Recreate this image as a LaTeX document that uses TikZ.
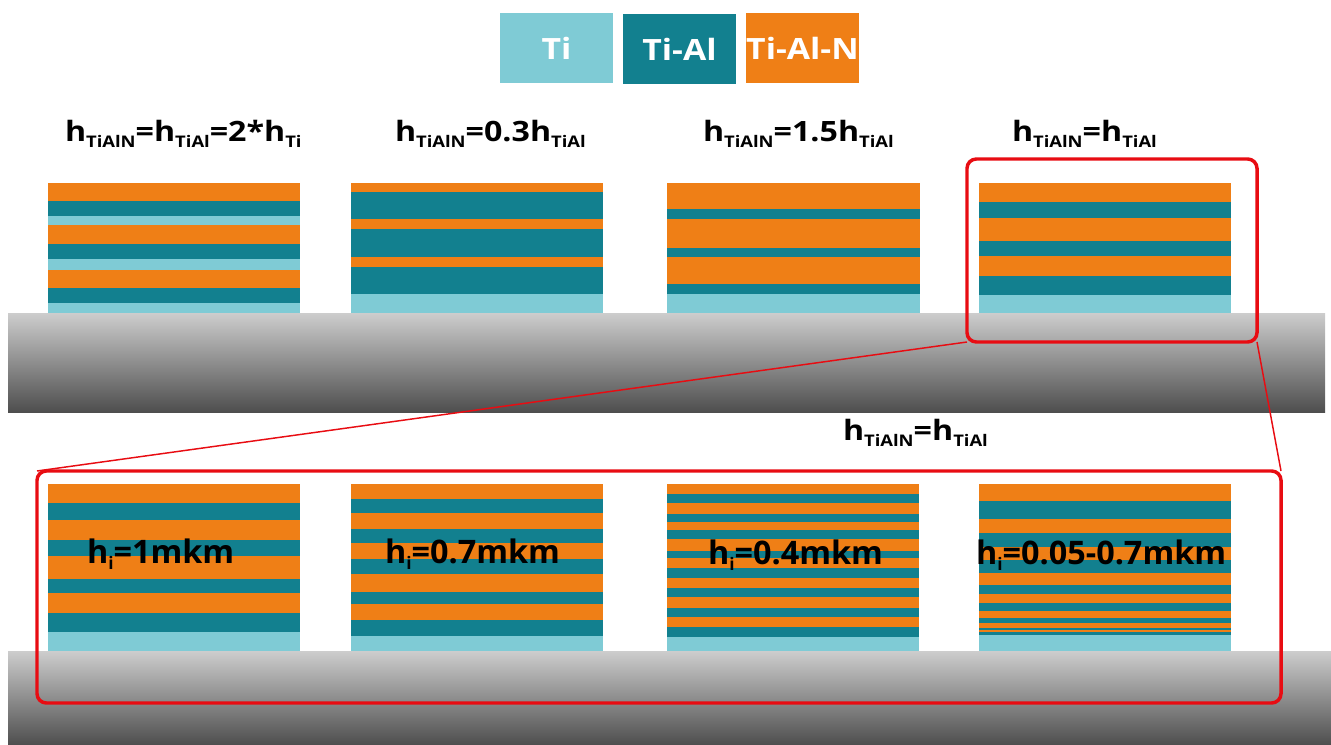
\documentclass[tikz,border=0pt]{standalone}
\usepackage{fontspec}
\setmainfont{Open Sans}
\newfontfamily\widefont[FakeStretch=1.15]{Open Sans}
\definecolor{cO}{RGB}{239,127,22}
\definecolor{cT}{RGB}{18,128,143}
\definecolor{cL}{RGB}{127,203,213}
\definecolor{zred}{RGB}{232,12,18}
\definecolor{subtop}{RGB}{205,205,205}
\definecolor{subbot}{RGB}{78,78,78}
\newcommand\smallsub[1]{\raisebox{-4.5pt}{\fontsize{12}{13}\selectfont #1}}
\newcommand\isub[1]{\raisebox{-5pt}{\fontsize{13}{14}\selectfont #1}}
\newcommand\layerstack[3]{\foreach \c/\a/\b in {#3} {\fill[\c] (#1,\a) rectangle (#2,\b);}}
\tikzset{
  lbl/.style={inner sep=0pt, outer sep=0pt, anchor=base west, font=\widefont\bfseries\fontsize{21}{24}\selectfont},
  biglbl/.style={inner sep=0pt, outer sep=0pt, anchor=base west, font=\bfseries\fontsize{24.3}{28}\selectfont},
  legendbox/.style={inner sep=0pt, outer sep=0pt, anchor=north west, minimum width=84.75pt, minimum height=52.5pt, text=white, font=\widefont\bfseries\fontsize{22}{26}\selectfont},
  zoombox/.style={draw=zred, line width=2.6pt, rounded corners=7pt, inner sep=0pt, outer sep=0pt, anchor=north west},
  zoomline/.style={draw=zred, line width=1.1pt},
  substrate/.style={top color=subtop, bottom color=subbot}
}
\begin{document}
\begin{tikzpicture}[x=0.75pt, y=-0.75pt]
\useasboundingbox (0,0) rectangle (1331,745);
% substrates
\shade[substrate] (8,313) rectangle (1325,412);
\shade[substrate] (8,651) rectangle (1331,745);
% legend
\node[legendbox, fill=cL] (lti) at (500,13) {Ti};
\node[legendbox, fill=cT] (ltial) at (623,14) {Ti-Al};
\node[legendbox, fill=cO] (ltialn) at (746,13) {Ti-Al-N};
% top labels
\node[lbl] (t1) at (65,142) {h\smallsub{TiAlN}=h\smallsub{TiAl}=2*h\smallsub{Ti}};
\node[lbl] (t2) at (395,142) {h\smallsub{TiAlN}=0.3h\smallsub{TiAl}};
\node[lbl] (t3) at (703,142) {h\smallsub{TiAlN}=1.5h\smallsub{TiAl}};
\node[lbl] (t4) at (1012,142) {h\smallsub{TiAlN}=h\smallsub{TiAl}};
% top stacks
\layerstack{48}{300}{cO/183/200.7, cT/200.7/215.7, cL/215.7/225, cO/225/244, cT/244/259.3, cL/259.3/270, cO/270/288.3, cT/288.3/303.3, cL/303.3/313}
\layerstack{351}{603}{cO/183/191.7, cT/191.7/219.3, cO/219.3/229.3, cT/229.3/256.7, cO/256.7/266.7, cT/266.7/294.3, cL/294.3/313}
\layerstack{667}{920}{cO/183/209, cT/209/219.3, cO/219.3/248, cT/248/257.3, cO/257.3/284.3, cT/284.3/294.3, cL/294.3/313}
\layerstack{979}{1231}{cO/183/201.7, cT/201.7/218.3, cO/218.3/241, cT/241/256, cO/256/275.7, cT/275.7/295, cL/295/313}
% bottom stacks
\layerstack{48}{300}{cO/484/503.3, cT/503.3/520, cO/520/540, cT/540/556, cO/556/579, cT/579/593.3, cO/593.3/613.3, cT/613.3/632.3, cL/632.3/651}
\layerstack{351}{603}{cO/484/499.3, cT/499.3/513.3, cO/513.3/529.3, cT/529.3/543.3, cO/543.3/559.3, cT/559.3/574.3, cO/574.3/591.7, cT/591.7/604.3, cO/604.3/620, cT/620/635.7, cL/635.7/651}
\layerstack{667}{919}{cO/484/494, cT/494/502.7, cO/502.7/514.3, cT/514.3/521.7, cO/521.7/530, cT/530/539, cO/539/551, cT/551/558.3, cO/558.3/568.3, cT/568.3/578.3, cO/578.3/588.3, cT/588.3/596.7, cO/596.7/608.3, cT/608.3/616.7, cO/616.7/626.7, cT/626.7/636.7, cL/636.7/651}
\layerstack{979}{1231}{cO/484/500.7, cT/500.7/519.3, cO/519.3/533.3, cT/533.3/547, cO/547/560, cT/560/573.3, cO/573.3/585, cT/585/594.3, cO/594.3/603.3, cT/603.3/611, cO/611/617.7, cT/617.7/623.3, cO/623.3/627.7, cT/627.7/630, cO/630/632.3, cT/632.3/635, cL/635/651}
% middle label
\node[lbl] (mid) at (843,440) {h\smallsub{TiAlN}=h\smallsub{TiAl}};
% bottom labels
\node[biglbl] (b1) at (87,563) {h\isub{i}=1mkm};
\node[biglbl] (b2) at (385,563) {h\isub{i}=0.7mkm};
\node[biglbl] (b3) at (708,564) {h\isub{i}=0.4mkm};
\node[biglbl] (b4) at (976,564) {h\isub{i}=0.05-0.7mkm};
% zoom boxes
\node[zoombox, minimum width=217.5pt, minimum height=137.25pt] (zA) at (967,159) {};
\node[zoombox, minimum width=933pt, minimum height=174pt] (zB) at (37,471) {};
\draw[zoomline] (zA.south west) -- (zB.north west);
\draw[zoomline] (zA.south east) -- (zB.north east);
\end{tikzpicture}
\end{document}
